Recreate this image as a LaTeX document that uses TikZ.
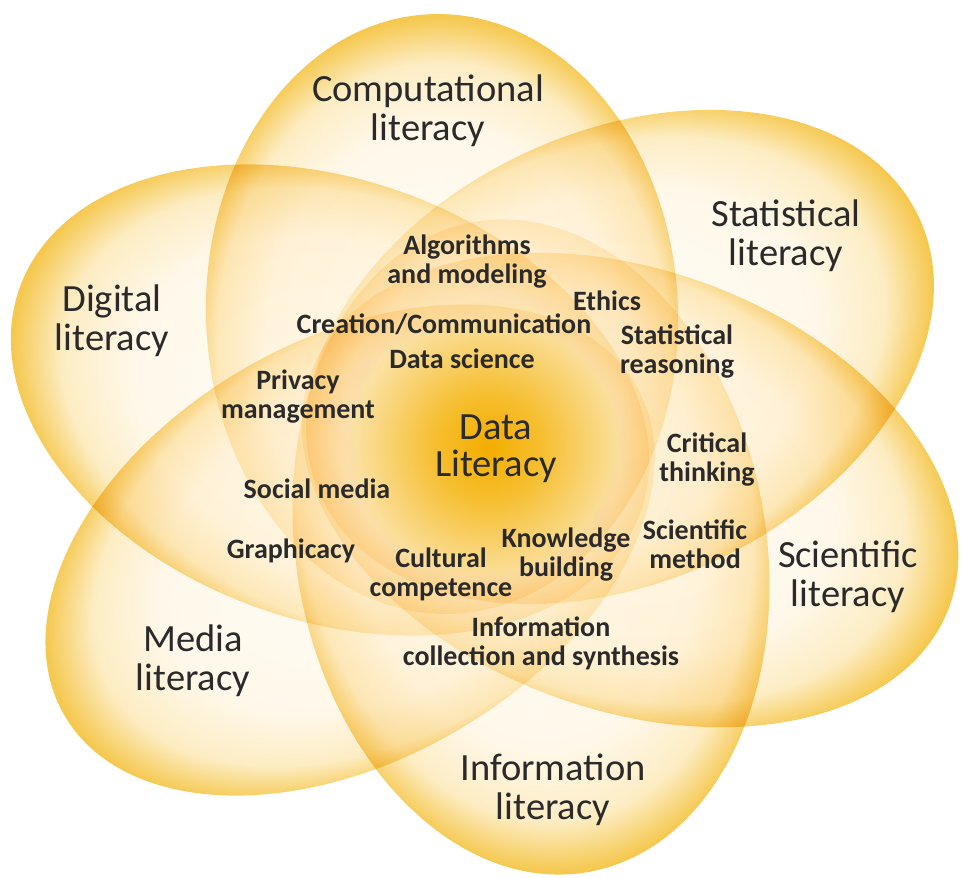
\documentclass[tikz,border=0pt]{standalone}
\usepackage{fontspec}
\setmainfont{Carlito}
\definecolor{petala}{HTML}{FFFEFB}
\definecolor{petalin}{HTML}{FFF8EA}
\definecolor{petalmid}{HTML}{FDEDC4}
\definecolor{petalout}{HTML}{F5C84F}
\definecolor{glowc}{HTML}{F3AD00}
\definecolor{glowm}{HTML}{F6BE2E}
\definecolor{glowl}{HTML}{FADB8E}
\definecolor{glowo}{HTML}{FFFFFF}
\definecolor{txt}{HTML}{2A2A2A}
\pgfdeclareradialshading{petal}{\pgfpoint{-6bp}{0bp}}{color(0bp)=(petala); color(19bp)=(petalin); color(24bp)=(petalmid); color(27.5bp)=(petalout); color(50bp)=(petalout)}
\pgfdeclareradialshading{glowsh}{\pgfpointorigin}{color(0bp)=(glowc); color(6.5bp)=(glowm); color(15bp)=(glowl); color(25bp)=(glowo); color(50bp)=(glowo)}
\tikzset{
  big/.style={text=txt, align=center, font=\fontsize{38.5}{39}\selectfont},
  core/.style={text=txt, align=center, font=\fontsize{38.5}{37}\selectfont},
  small/.style={text=txt, align=center, font=\bfseries\fontsize{28}{29}\selectfont},
}
\begin{document}
\begin{tikzpicture}[x=1pt,y=1pt]
\useasboundingbox (0,0) rectangle (964,878);
\fill[white] (0,0) rectangle (964,878);
\begin{scope}[blend mode=multiply]
\foreach \cx/\cy/\rot/\ra/\rb in {442/564/92/300/236, 620/521/25/330/225, 630/388/-20/340/220, 531/331/-80/330/235, 350/328/210/330/210, 330/478/160/330/220}{
  \shade[shading=petal, transform canvas={shift={(\cx,\cy)},rotate=\rot}] (0,0) ellipse ({\ra} and {\rb});
}
\end{scope}
\begin{scope}[blend mode=darken]
\shade[shading=glowsh] (488,431) circle (200);
\end{scope}
% petal labels
\node[big] (comp) at (428,767) {Computational\\literacy};
\node[big] (stat) at (786,642) {Statistical\\literacy};
\node[big] (digi) at (112,557) {Digital\\literacy};
\node[big] (scie) at (848,301) {Scientific\\literacy};
\node[big] (medi) at (193,217) {Media\\literacy};
\node[big] (info) at (553,88) {Information\\literacy};
\node[core] (data) at (496,429) {Data\\Literacy};
% inner labels
\node[small] (algo) at (467,616) {Algorithms\\and modeling};
\node[small] (ethi) at (607,577) {Ethics};
\node[small] (crea) at (444,554) {Creation/Communication};
\node[small] (sreas) at (677,526) {Statistical\\reasoning};
\node[small] (dsci) at (462,519) {Data science};
\node[small] (priv) at (298,481) {Privacy\\management};
\node[small] (crit) at (707,418) {Critical\\thinking};
\node[small] (soci) at (317,389) {Social media};
\node[small] (know) at (566,323) {Knowledge\\building};
\node[small] (smeth) at (695,334) {Scientific\\method};
\node[small] (grap) at (291,327) {Graphicacy};
\node[small] (cult) at (441,304) {Cultural\\competence};
\node[small] (icol) at (541,235) {Information\\collection and synthesis};
\end{tikzpicture}
\end{document}
